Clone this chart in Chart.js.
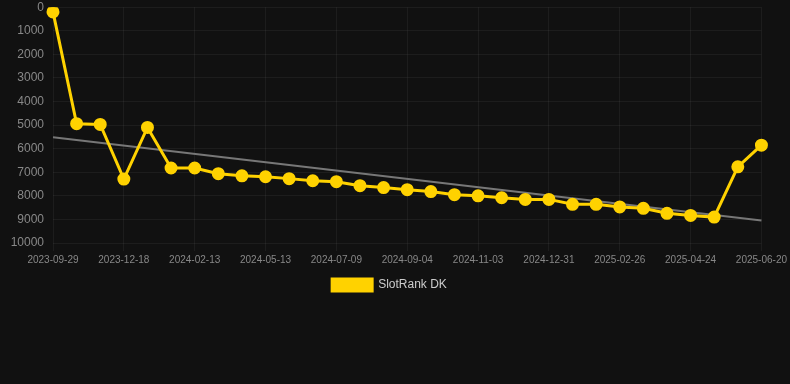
<!DOCTYPE html>
<html><head><meta charset="utf-8">
<script src="https://cdn.jsdelivr.net/npm/chart.js@4"></script>
<style>
html,body{margin:0;padding:0;background:#111111;overflow:hidden;}
#wrap{width:790px;height:310px;position:relative;margin-top:-9px;}
</style></head>
<body>
<div id="wrap"><canvas id="c"></canvas></div>
<script>
const categories = ["2023-09-29","2023-10-25","2023-11-21","2023-12-18","2024-01-06","2024-01-25","2024-02-13","2024-03-14","2024-04-13","2024-05-13","2024-06-01","2024-06-20","2024-07-09","2024-07-28","2024-08-16","2024-09-04","2024-09-24","2024-10-14","2024-11-03","2024-11-22","2024-12-11","2024-12-31","2025-01-19","2025-02-07","2025-02-26","2025-03-17","2025-04-05","2025-04-24","2025-05-13","2025-06-01","2025-06-20"];
const rankValues = [200,4940,4970,7290,5100,6820,6820,7060,7150,7190,7270,7360,7400,7570,7650,7740,7820,7950,8000,8080,8150,8150,8360,8360,8470,8530,8740,8830,8900,6770,5850];
const trendStart = 5520;
const trendEnd = 9050;
const yTicks = [0,1000,2000,3000,4000,5000,6000,7000,8000,9000,10000];
const trendValues = categories.map((_, i) => i === 0 ? trendStart : (i === categories.length - 1 ? trendEnd : null));

new Chart(document.getElementById('c'), {
  type: 'line',
  data: {
    labels: categories,
    datasets: [
      {
        label: 'SlotRank DK',
        data: rankValues,
        borderColor: '#FFD200',
        backgroundColor: '#FFD200',
        borderWidth: 3,
        pointRadius: 5,
        pointHoverRadius: 5,
        pointBackgroundColor: '#FFD200',
        pointBorderColor: '#FFD200',
        tension: 0,
        order: 1
      },
      {
        label: 'trend',
        data: trendValues,
        spanGaps: true,
        borderColor: '#777777',
        borderWidth: 2,
        pointRadius: 0,
        fill: false,
        order: 2
      }
    ]
  },
  options: {
    responsive: true,
    maintainAspectRatio: false,
    animation: false,
    layout: { padding: { top: 0, right: 11, left: 0, bottom: 0 } },
    scales: {
      x: {
        offset: false,
        grid: { color: 'rgba(255,255,255,0.05)', drawTicks: true, tickLength: 8 },
        border: { display: false },
        ticks: {
          color: '#888888',
          font: { family: 'Liberation Sans, Arial, sans-serif', size: 10 },
          maxRotation: 0,
          autoSkip: false,
          callback: function(v, i) { return i % 3 === 0 ? categories[i] : null; }
        }
      },
      y: {
        reverse: true,
        min: 0,
        max: 10000,
        afterBuildTicks: (axis) => { axis.ticks = yTicks.map(v => ({ value: v })); },
        afterFit: (axis) => { axis.width = 53; },
        grid: { color: 'rgba(255,255,255,0.05)', drawTicks: false },
        border: { display: false },
        ticks: {
          color: '#888888',
          padding: 9,
          font: { family: 'Liberation Sans, Arial, sans-serif', size: 12 },
          callback: (v) => String(v)
        }
      }
    },
    plugins: {
      legend: {
        position: 'bottom',
        labels: {
          color: '#cccccc',
          boxWidth: 40,
          boxHeight: 12,
          font: { family: 'Liberation Sans, Arial, sans-serif', size: 12 },
          filter: (item) => item.text !== 'trend'
        }
      },
      tooltip: { enabled: false }
    }
  }
});
</script>
</body></html>
